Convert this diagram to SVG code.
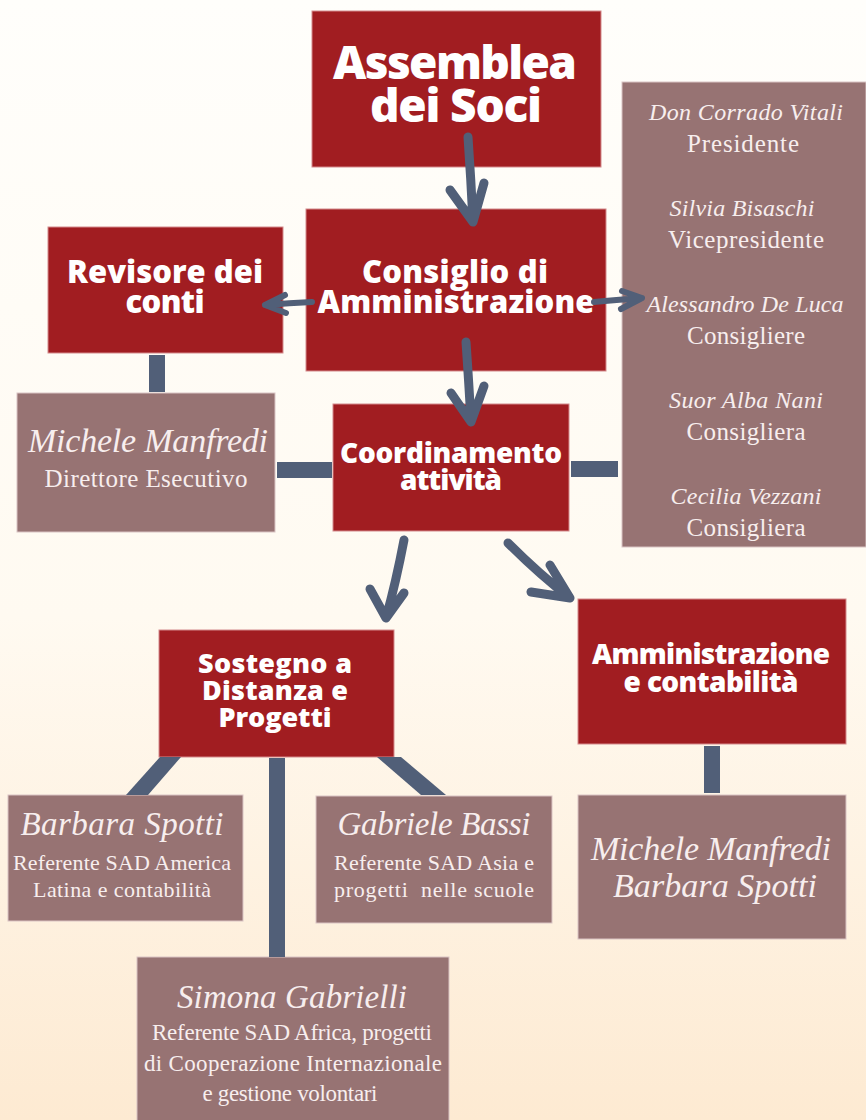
<svg xmlns="http://www.w3.org/2000/svg" width="866" height="1120" viewBox="0 0 866 1120">
<defs>
<linearGradient id="bg" x1="0" y1="0" x2="0" y2="1">
<stop offset="0" stop-color="#fffefb"/>
<stop offset="0.55" stop-color="#fffaf1"/>
<stop offset="1" stop-color="#fdead2"/>
</linearGradient>
<style>
.red{fill:#a11d21;stroke:#d48a8c;stroke-width:1}
.mauve{fill:#977373;stroke:#d9c4c4;stroke-width:1}
.h{font-family:"Open Sans",Lato,"DejaVu Sans",sans-serif;font-weight:800;fill:#ffffff;text-anchor:middle}
.n{font-family:"Liberation Serif","DejaVu Serif",serif;font-style:italic;fill:#f7eeee;text-anchor:middle}
.r{font-family:"Liberation Serif","DejaVu Serif",serif;fill:#f7eeee;text-anchor:middle}
.bar{fill:#515f78}
.arr{fill:none;stroke:#515f78;stroke-width:9;stroke-linecap:round;stroke-linejoin:round}
.arr2{fill:none;stroke:#515f78;stroke-width:6;stroke-linecap:round;stroke-linejoin:round}
</style>
</defs>
<rect x="0" y="0" width="866" height="1120" fill="url(#bg)"/>

<g id="assemblea">
<rect class="red" x="312" y="11" width="289" height="156"/>
<text class="h" x="455" y="79" font-size="46" textLength="244">Assemblea</text>
<text class="h" x="456" y="122" font-size="46" textLength="172">dei Soci</text>
</g>

<g id="consiglio">
<rect class="red" x="306" y="209" width="300" height="162"/>
<text class="h" x="455" y="283" font-size="31" textLength="186">Consiglio di</text>
<text class="h" x="456" y="313" font-size="31" textLength="277">Amministrazione</text>
</g>

<g id="revisore">
<rect class="red" x="48" y="227" width="235" height="126"/>
<text class="h" x="165" y="283" font-size="31" textLength="196">Revisore dei</text>
<text class="h" x="165" y="313" font-size="31" textLength="79">conti</text>
</g>

<g id="consiglio-membri">
<rect class="mauve" x="622" y="82" width="244" height="465"/>
<text class="n" x="746" y="120" font-size="24" textLength="194">Don Corrado Vitali</text>
<text class="r" x="743" y="152" font-size="25" textLength="112">Presidente</text>
<text class="n" x="742" y="216" font-size="24" textLength="145">Silvia Bisaschi</text>
<text class="r" x="746" y="248" font-size="25" textLength="156">Vicepresidente</text>
<text class="n" x="745" y="312" font-size="24" textLength="197">Alessandro De Luca</text>
<text class="r" x="746" y="344" font-size="25" textLength="118">Consigliere</text>
<text class="n" x="746" y="408" font-size="24" textLength="154">Suor Alba Nani</text>
<text class="r" x="746" y="440" font-size="25" textLength="119">Consigliera</text>
<text class="n" x="746" y="504" font-size="24" textLength="151">Cecilia Vezzani</text>
<text class="r" x="746" y="536" font-size="25" textLength="119">Consigliera</text>
</g>

<g id="direttore">
<rect class="mauve" x="17" y="393" width="258" height="139"/>
<text class="n" x="148" y="452" font-size="34" textLength="240">Michele Manfredi</text>
<text class="r" x="146" y="487" font-size="25" textLength="203">Direttore Esecutivo</text>
</g>

<g id="coordinamento">
<rect class="red" x="333" y="404" width="236" height="127"/>
<text class="h" x="451" y="463" font-size="28" textLength="222">Coordinamento</text>
<text class="h" x="451" y="490" font-size="28" textLength="102">attività</text>
</g>

<g id="sostegno">
<rect class="red" x="159" y="630" width="235" height="127"/>
<text class="h" x="275" y="673" font-size="27" textLength="154">Sostegno a</text>
<text class="h" x="275" y="700" font-size="27" textLength="146">Distanza e</text>
<text class="h" x="275" y="727" font-size="27" textLength="113">Progetti</text>
</g>

<g id="amministrazione">
<rect class="red" x="578" y="599" width="268" height="145"/>
<text class="h" x="711" y="664" font-size="28" textLength="238">Amministrazione</text>
<text class="h" x="711" y="692" font-size="28" textLength="175">e contabilità</text>
</g>

<g id="barbara">
<rect class="mauve" x="8" y="795" width="235" height="126"/>
<text class="n" x="122" y="835" font-size="33" textLength="203">Barbara Spotti</text>
<text class="r" x="122" y="870" font-size="22" textLength="218">Referente SAD America</text>
<text class="r" x="122" y="897" font-size="22" textLength="178">Latina e contabilità</text>
</g>

<g id="gabriele">
<rect class="mauve" x="316" y="796" width="236" height="127"/>
<text class="n" x="434" y="835" font-size="33" textLength="193">Gabriele Bassi</text>
<text class="r" x="434" y="870" font-size="22" textLength="200">Referente SAD Asia e</text>
<text class="r" x="434" y="897" font-size="22" textLength="200" xml:space="preserve">progetti  nelle scuole</text>
</g>

<g id="simona">
<rect class="mauve" x="137" y="957" width="312" height="170"/>
<text class="n" x="292" y="1008" font-size="33" textLength="230">Simona Gabrielli</text>
<text class="r" x="292" y="1040" font-size="23" textLength="280">Referente SAD Africa, progetti</text>
<text class="r" x="293" y="1071" font-size="23" textLength="298">di Cooperazione Internazionale</text>
<text class="r" x="290" y="1101" font-size="23" textLength="175">e gestione volontari</text>
</g>

<g id="amministrazione-membri">
<rect class="mauve" x="578" y="795" width="268" height="144"/>
<text class="n" x="711" y="860" font-size="34" textLength="240">Michele Manfredi</text>
<text class="n" x="715" y="897" font-size="34" textLength="204">Barbara Spotti</text>
</g>

<g id="connectors">
<rect class="bar" x="149" y="355" width="16" height="37"/>
<rect class="bar" x="277" y="462" width="55" height="16"/>
<rect class="bar" x="571" y="461" width="47" height="16"/>
<rect class="bar" x="704" y="746" width="16" height="47"/>
<rect class="bar" x="269" y="758" width="16" height="199"/>
<polygon class="bar" points="160,757 181,757 148,795 126,795"/>
<polygon class="bar" points="377,757 401,757 446,795 421,795"/>
<path class="arr" d="M468,137 Q471,180 473,222 M450,190 L473,222 L484,183"/>
<path class="arr" d="M466,342 Q469,385 471,422 M451,393 L471,422 L484,386"/>
<path class="arr" d="M404,540 Q396,582 386,618 M370,589 L386,618 L404,593"/>
<path class="arr" d="M508,543 Q540,575 570,598 M550,565 L570,598 L531,592"/>
<path class="arr2" d="M312,302 Q290,303 265,305 M285,295 L265,305 L286,313"/>
<path class="arr2" d="M594,302 Q615,300 642,298 M622,291 L642,298 L621,309"/>
</g>
</svg>
